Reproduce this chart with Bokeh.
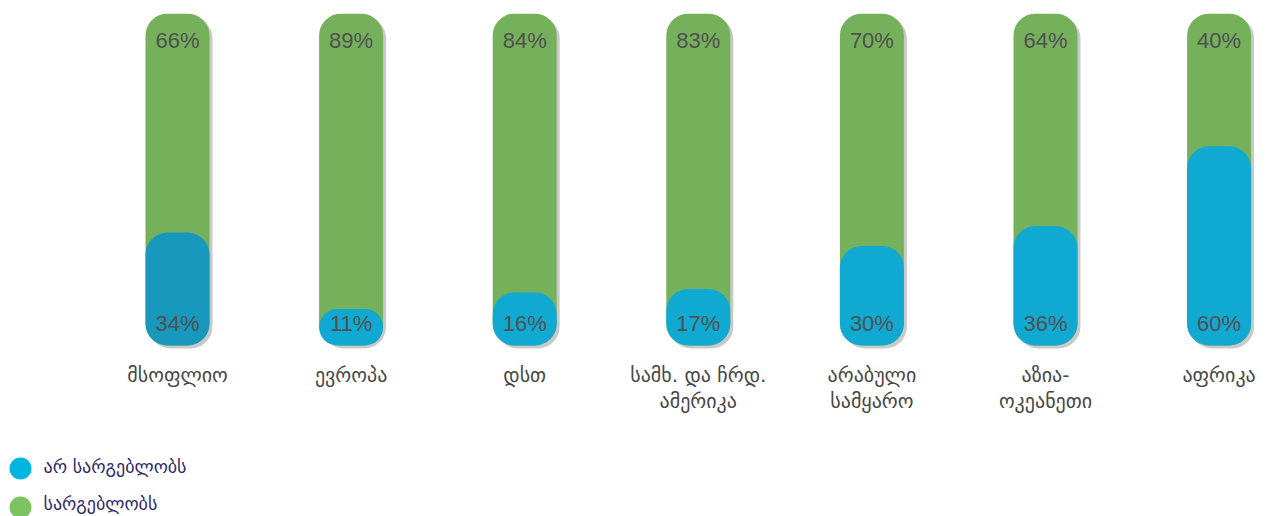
from bokeh.plotting import figure
from bokeh.models import ColumnDataSource, Range1d
from bokeh.core.properties import value
from bokeh.embed import file_html
from bokeh.resources import INLINE

# ---- data ----
categories = ["მსოფლიო", "ევროპა", "დსთ", "სამხ. და ჩრდ.\nამერიკა",
              "არაბული\nსამყარო", "აზია-\nოკეანეთი", "აფრიკა"]
not_using = [34, 11, 16, 17, 30, 36, 60]   # არ სარგებლობს
using = [66, 89, 84, 83, 70, 64, 40]       # სარგებლობს
legend_labels = ["არ სარგებლობს", "სარგებლობს"]

GREEN = "#75b15b"
BLUE = "#0fa9d2"
BLUE_FIRST = "#1898bc"
LEG_BLUE = "#00b5e2"
LEG_GREEN = "#7cc361"

idx = list(range(len(categories)))
src = ColumnDataSource(dict(
    x=idx,
    cat=categories,
    blue=not_using,
    total=[a + b for a, b in zip(not_using, using)],
    zero=[0] * len(idx),
    blue_lbl=[f"{v}%" for v in not_using],
    green_lbl=[f"{v}%" for v in using],
    blue_col=[BLUE_FIRST] + [BLUE] * (len(idx) - 1),
))

W, H = 1269, 516
TOP = 13
BOTTOM_PX = 345
px_per_x = 173.6
px_per_y = (BOTTOM_PX - TOP) / 100.0
x0 = -177 / px_per_x
p = figure(width=W, height=H, output_backend="svg", toolbar_location=None,
           x_axis_location=None, y_axis_location=None,
           min_border_left=0, min_border_right=0, min_border_top=TOP, min_border_bottom=0,
           x_range=Range1d(x0, x0 + W / px_per_x),
           y_range=Range1d(100 - (H - TOP) / px_per_y, 100))
p.grid.visible = False
p.outline_line_color = None
p.background_fill_color = "white"
p.border_fill_color = "white"

bw = 64 / px_per_x
r = 22
# shadow
sh = ColumnDataSource(dict(x=[i + 3 / px_per_x for i in idx],
                           top=[t - 3 / px_per_y for t in src.data["total"]],
                           bottom=[-3 / px_per_y] * len(idx)))
p.vbar(x="x", width=bw, bottom="bottom", top="top", source=sh,
       fill_color="#c9c9c9", line_color=None, border_radius=r)
# green full bar
p.vbar(x="x", width=bw, bottom="zero", top="total", source=src,
       fill_color=GREEN, line_color=None, border_radius=r)
# blue part
p.vbar(x="x", width=bw, bottom="zero", top="blue", source=src,
       fill_color="blue_col", line_color=None, border_radius=r)

font = value("Liberation Sans")
p.text(x="x", y="total", text="green_lbl", source=src, text_font=font,
       text_font_size="22px", text_color="#505050", text_align="center",
       text_baseline="middle", y_offset=27)
p.text(x="x", y="zero", text="blue_lbl", source=src, text_font=font,
       text_font_size="22px", text_color="#505050", text_align="center",
       text_baseline="middle", y_offset=-22)
p.text(x="x", y="zero", text="cat", source=src, text_font=value("DejaVu Sans"),
       text_font_size="20px", text_color="#484848", text_align="center",
       text_baseline="top", y_offset=17, text_line_height=1.1)

# legend (manual)
leg_x = x0 + 20 / px_per_x
leg_tx = x0 + 43 / px_per_x
leg_y = [-(468 - BOTTOM_PX) / px_per_y, -(507 - BOTTOM_PX) / px_per_y]
leg_ty = [-(466 - BOTTOM_PX) / px_per_y, -(503 - BOTTOM_PX) / px_per_y]
leg = ColumnDataSource(dict(x=[leg_x, leg_x], tx=[leg_tx, leg_tx], y=leg_y, ty=leg_ty,
                            c=[LEG_BLUE, LEG_GREEN], t=legend_labels))
p.scatter(x="x", y="y", size=22, fill_color="c", line_color=None, source=leg)
p.text(x="tx", y="ty", text="t", source=leg, text_font=value("DejaVu Sans"),
       text_font_size="18px", text_color="#2c2a6c", text_baseline="middle")

open("out.html", "w").write(file_html(p, INLINE))
